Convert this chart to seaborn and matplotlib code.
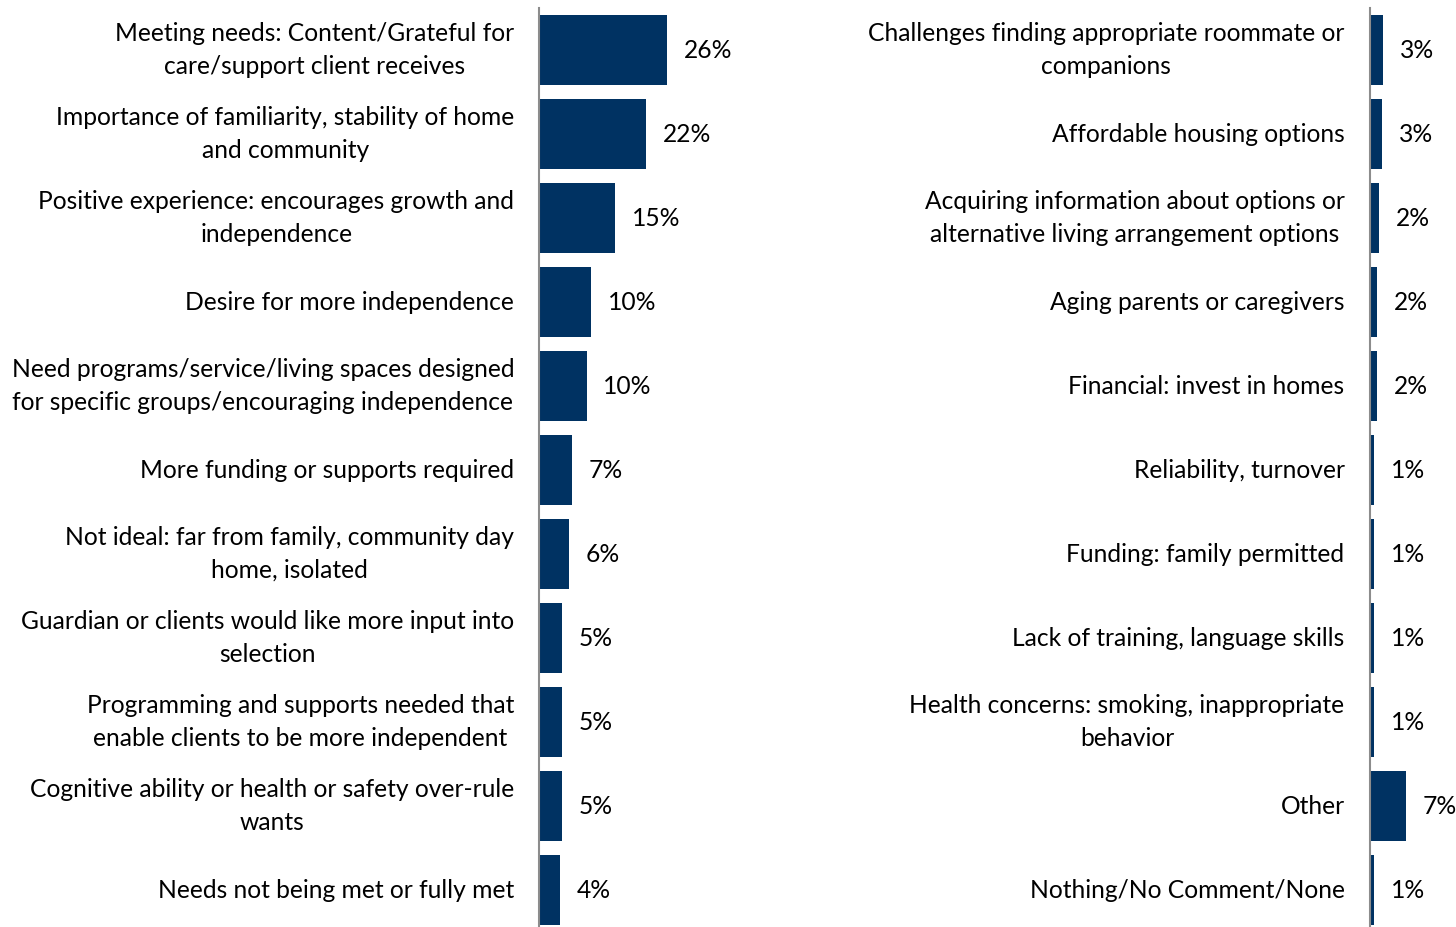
import matplotlib
matplotlib.use("Agg")
import matplotlib.pyplot as plt
import seaborn as sns
import pandas as pd

# Left column: reasons and share of responses (%)
left_categories = [
    "Meeting needs: Content/Grateful for\ncare/support client receives",
    "Importance of familiarity, stability of home\nand community",
    "Positive experience: encourages growth and\nindependence",
    "Desire for more independence",
    "Need programs/service/living spaces designed\nfor specific groups/encouraging independence",
    "More funding or supports required",
    "Not ideal: far from family, community day\nhome, isolated",
    "Guardian or clients would like more input into\nselection",
    "Programming and supports needed that\nenable clients to be more independent",
    "Cognitive ability or health or safety over-rule\nwants",
    "Needs not being met or fully met",
]
left_values = [26.0, 21.6, 15.4, 10.5, 9.6, 6.6, 6.0, 4.7, 4.6, 4.6, 4.2]

# Right column: reasons and share of responses (%)
right_categories = [
    "Challenges finding appropriate roommate or\ncompanions",
    "Affordable housing options",
    "Acquiring information about options or\nalternative living arrangement options",
    "Aging parents or caregivers",
    "Financial: invest in homes",
    "Reliability, turnover",
    "Funding: family permitted",
    "Lack of training, language skills",
    "Health concerns: smoking, inappropriate\nbehavior",
    "Other",
    "Nothing/No Comment/None",
]
right_values = [2.8, 2.55, 1.9, 1.55, 1.5, 0.9, 0.9, 0.9, 0.9, 7.4, 0.9]

BAR_COLOR = "#003262"
SPINE_COLOR = "#8c8c8c"
FONT_SIZE = 17.7
PX_PER_PCT = 4.93

sns.set_theme(style="white")
plt.rcParams["font.family"] = ["Lato", "DejaVu Sans"]

W, H = 1456, 927
fig = plt.figure(figsize=(W / 100, H / 100), dpi=100)

top_px = 8
ax_h = (H - top_px) / H
rows_visible = (H - top_px) / 84.0


def draw_panel(left_px, xmax, categories, values):
    ax = fig.add_axes([left_px / W, 0, xmax * PX_PER_PCT / W, ax_h])
    df = pd.DataFrame({"category": categories, "value": values})
    sns.barplot(data=df, x="value", y="category", orient="h", color=BAR_COLOR,
                saturation=1, width=0.833, ax=ax, linewidth=0)
    ax.set_xlim(0, xmax)
    ax.set_ylim(-0.5 + rows_visible, -0.5)
    ax.set_xlabel("")
    ax.set_ylabel("")
    ax.set_xticks([])
    ax.tick_params(axis="y", length=0, pad=18, labelsize=FONT_SIZE, labelcolor="black")
    for t in ax.get_yticklabels():
        t.set_multialignment("center")
        t.set_linespacing(1.52)
        t.set_verticalalignment("center")
    for side in ["top", "right", "bottom"]:
        ax.spines[side].set_visible(False)
    ax.spines["left"].set_color(SPINE_COLOR)
    ax.spines["left"].set_linewidth(1.5)
    ax.bar_label(ax.containers[0], labels=[f"{v:.0f}%" for v in values],
                 padding=12, fontsize=FONT_SIZE, color="black")
    return ax


draw_panel(539.3, 50, left_categories, left_values)
draw_panel(1369.5, 17, right_categories, right_values)

fig.savefig("out.png", dpi=100)
